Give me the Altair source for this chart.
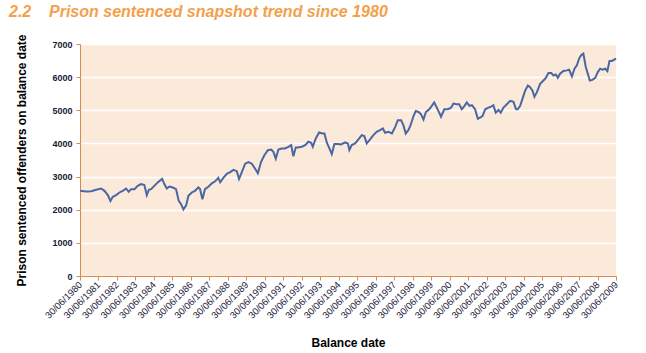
import altair as alt
import pandas as pd
import numpy as np

# Decimal year of each reading and sentenced prisoner count
year_frac = [
    1980.50, 1980.82, 1981.10, 1981.37, 1981.64, 1981.82, 1982.00, 1982.14, 1982.27, 1982.45,
    1982.63, 1982.81, 1982.99, 1983.13, 1983.26, 1983.44, 1983.62, 1983.80, 1983.98, 1984.11,
    1984.22, 1984.34, 1984.52, 1984.70, 1984.94, 1985.06, 1985.19, 1985.33, 1985.52, 1985.69,
    1985.84, 1985.97, 1986.09, 1986.24, 1986.36, 1986.54, 1986.72, 1986.90, 1986.99, 1987.12,
    1987.26, 1987.44, 1987.63, 1987.81, 1987.98, 1988.08, 1988.25, 1988.44, 1988.62, 1988.80,
    1988.98, 1989.10, 1989.25, 1989.43, 1989.61, 1989.79, 1989.97, 1990.12, 1990.29, 1990.47,
    1990.66, 1990.84, 1990.96, 1991.09, 1991.23, 1991.41, 1991.59, 1991.77, 1991.92, 1992.04,
    1992.17, 1992.28, 1992.50, 1992.68, 1992.85, 1993.00, 1993.09, 1993.25, 1993.43, 1993.61,
    1993.72, 1993.85, 1993.99, 1994.12, 1994.26, 1994.44, 1994.62, 1994.84, 1994.99, 1995.07,
    1995.20, 1995.38, 1995.56, 1995.74, 1995.88, 1996.01, 1996.19, 1996.37, 1996.55, 1996.73,
    1996.88, 1997.00, 1997.18, 1997.37, 1997.55, 1997.69, 1997.87, 1997.99, 1998.12, 1998.26,
    1998.36, 1998.54, 1998.66, 1998.81, 1998.95, 1999.08, 1999.21, 1999.39, 1999.53, 1999.66,
    1999.80, 1999.93, 2000.03, 2000.21, 2000.40, 2000.58, 2000.70, 2000.88, 2001.01, 2001.15,
    2001.30, 2001.42, 2001.57, 2001.70, 2001.87, 2002.02, 2002.14, 2002.27, 2002.42, 2002.59,
    2002.74, 2002.86, 2002.99, 2003.14, 2003.26, 2003.41, 2003.59, 2003.77, 2003.95, 2004.09,
    2004.18, 2004.31, 2004.43, 2004.58, 2004.73, 2004.85, 2004.98, 2005.08, 2005.21, 2005.39,
    2005.57, 2005.70, 2005.84, 2005.99, 2006.11, 2006.24, 2006.35, 2006.47, 2006.65, 2006.83,
    2006.96, 2007.11, 2007.25, 2007.38, 2007.50, 2007.61, 2007.73, 2007.86, 2007.97, 2008.08,
    2008.22, 2008.37, 2008.51, 2008.64, 2008.76, 2008.91, 2009.03, 2009.14, 2009.27, 2009.40,
    2009.50,
]
prisoners = [
    2571, 2550, 2560, 2600, 2640, 2570, 2440, 2265, 2390, 2440,
    2520, 2570, 2640, 2540, 2620, 2620, 2720, 2775, 2745, 2440,
    2600, 2620, 2720, 2825, 2930, 2775, 2640, 2700, 2670, 2620,
    2265, 2160, 2010, 2130, 2418, 2520, 2570, 2673, 2622, 2316,
    2622, 2694, 2796, 2857, 2959, 2827, 2959, 3082, 3133, 3204,
    3163, 2929, 3133, 3388, 3439, 3388, 3235, 3102, 3439, 3643,
    3796, 3816, 3745, 3541, 3816, 3847, 3847, 3898, 3949, 3612,
    3878, 3880, 3900, 3950, 4050, 4020, 3900, 4150, 4330, 4300,
    4300, 4020, 3850, 3680, 3980, 3980, 3970, 4030, 4000, 3800,
    3950, 4000, 4120, 4250, 4220, 4000, 4120, 4250, 4350, 4400,
    4450, 4320, 4350, 4300, 4500, 4700, 4700, 4550, 4300, 4400,
    4520, 4827, 4980, 4949, 4878, 4724, 4949, 5031, 5133, 5235,
    5082, 4929, 4806, 5031, 5031, 5082, 5204, 5184, 5184, 5031,
    5133, 5235, 5133, 5153, 5031, 4745, 4776, 4827, 5031, 5082,
    5112, 5153, 4929, 5010, 4929, 5082, 5184, 5286, 5255, 5031,
    5031, 5133, 5337, 5592, 5745, 5694, 5592, 5408, 5541, 5796,
    5898, 5980, 6122, 6122, 6051, 6082, 5980, 6102, 6184, 6204,
    6224, 6020, 6255, 6357, 6561, 6663, 6714, 6306, 6102, 5898,
    5918, 5980, 6153, 6255, 6224, 6255, 6184, 6490, 6490, 6531,
    6561,
]
tick_years = list(range(1980, 2010))

yf = np.array(year_frac)
yr = np.floor(yf).astype(int)
dates = pd.to_datetime(pd.Series(yr).astype(str) + "-01-01") + pd.to_timedelta((yf - yr) * 365.25, unit="D")
df = pd.DataFrame({"date": dates.dt.strftime("%Y-%m-%d"), "value": prisoners})

AX = "#D98A4E"
FONT = "Liberation Sans"

tick_vals = [alt.DateTime(year=y, month=6, date=30) for y in tick_years]

chart = alt.Chart(df).mark_line(color="#4A67A3", strokeWidth=2).encode(
    x=alt.X("date:T",
            scale=alt.Scale(domain=[alt.DateTime(year=1980, month=6, date=30),
                                    alt.DateTime(year=2009, month=6, date=30)]),
            axis=alt.Axis(values=tick_vals, format="%d/%m/%Y", labelAngle=-45,
                          labelAlign="right", labelBaseline="middle", labelPadding=3,
                          labelFontSize=9.5, labelColor="#1a1a3a", labelFont=FONT,
                          grid=False, domainColor=AX, tickColor=AX, tickSize=4,
                          labelOverlap=False, labelFlush=False,
                          title="Balance date", titleFont=FONT, titleFontSize=12,
                          titleFontWeight="bold", titleColor="#000000", titlePadding=18)),
    y=alt.Y("value:Q",
            scale=alt.Scale(domain=[0, 7000], nice=False),
            axis=alt.Axis(values=list(range(0, 7001, 1000)), format="d", labelFontSize=9,
                          labelFontWeight="bold", labelColor="#1a1a3a", labelFont=FONT,
                          labelPadding=4,
                          grid=True, gridColor="#FFFFFF", gridWidth=1.5,
                          domainColor=AX, tickColor=AX, tickSize=4,
                          title="Prison sentenced offenders on balance date",
                          titleFont=FONT, titleFontSize=12, titleFontWeight="bold",
                          titleColor="#000000", titlePadding=23)),
).properties(
    width=536, height=232,
    autosize=alt.AutoSizeParams(type="none"),
    padding={"left": 80, "top": 44, "right": 30, "bottom": 77},
    title=alt.TitleParams("2.2\u00a0\u00a0\u00a0\u00a0Prison sentenced snapshot trend since 1980",
                          anchor="start", frame="group", dx=-71, offset=14,
                          font=FONT, fontSize=16, fontWeight="bold", fontStyle="italic",
                          color="#F4A04A"),
).configure_view(fill="#FBE9DA", stroke=None)

chart.save("out.html", embed_options={"renderer": "svg", "actions": False})
